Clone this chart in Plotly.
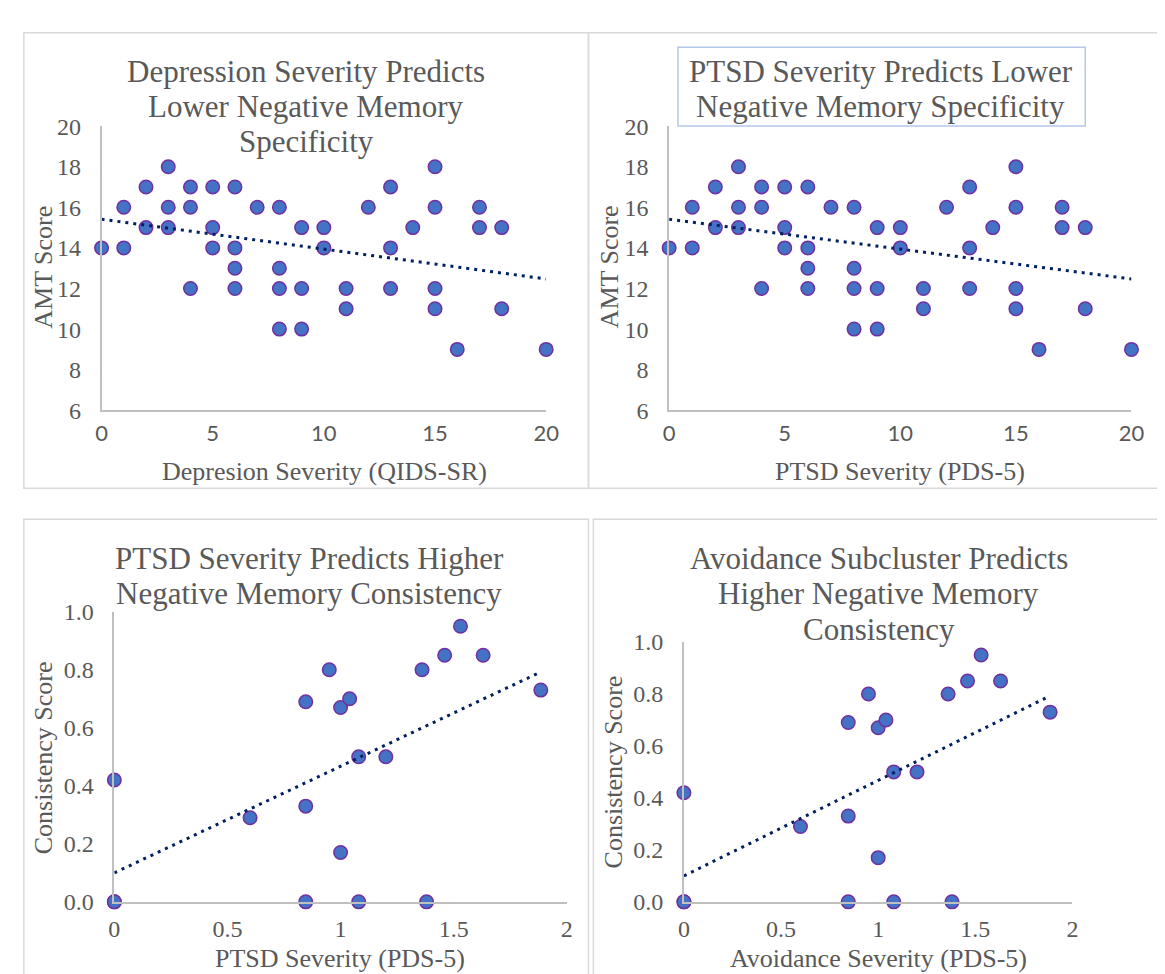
import numpy as np
import plotly.graph_objects as go

W, H = 1165, 974

# ---- data ----
depression_x = [0, 1, 1, 2, 2, 3, 3, 3, 4, 4, 4, 5, 5, 5, 6, 6, 6, 6, 7, 8, 8, 8, 8, 9, 9, 9,
                10, 10, 11, 11, 12, 13, 13, 13, 14, 15, 15, 15, 15, 16, 17, 17, 18, 18, 20]
ptsd_x = list(depression_x)
amt_y = [14, 16, 14, 17, 15, 18, 16, 15, 17, 16, 12, 17, 15, 14, 17, 14, 13, 12, 16, 16, 13, 12, 10,
         15, 12, 10, 15, 14, 12, 11, 16, 17, 14, 12, 15, 18, 16, 12, 11, 9, 16, 15, 15, 11, 9]

ptsd_sev_x = [0, 0, 0, 0.6, 0.846, 0.846, 0.846, 0.95, 1.0, 1.0, 1.04, 1.08, 1.08, 1.2, 1.36,
              1.38, 1.46, 1.53, 1.63, 1.885]
avoid_x = list(ptsd_sev_x)
cons_y = [0, 0, 0.42, 0.29, 0.69, 0.33, 0, 0.8, 0.67, 0.17, 0.7, 0.5, 0, 0.5, 0.8, 0,
          0.85, 0.95, 0.85, 0.73]

top_x_ticks = [0, 5, 10, 15, 20]
bot_x_ticks = [0, 0.5, 1, 1.5, 2]

titles = [
    ["Depression Severity Predicts", "Lower Negative Memory", "Specificity"],
    ["PTSD Severity Predicts Lower", "Negative Memory Specificity"],
    ["PTSD Severity Predicts Higher", "Negative Memory Consistency"],
    ["Avoidance Subcluster Predicts", "Higher Negative Memory", "Consistency"],
]
x_titles = ["Depresion Severity (QIDS-SR)", "PTSD Severity (PDS-5)",
            "PTSD Severity (PDS-5)", "Avoidance Severity (PDS-5)"]
y_titles = ["AMT Score", "AMT Score", "Consistency Score", "Consistency Score"]

# ---- layout geometry (pixels) ----
def fx(px):
    return px / W

def fy(py):
    return 1 - py / H

panels = [
    dict(x=depression_x, y=amt_y, xd=(89, 541), yd=(108, 400), xr=[0, 20], yr=[6, 20],
         tick=top_x_ticks, title_cx=297, title_y=[52, 88, 124], xt=(316, 463), yt=(30, 253)),
    dict(x=ptsd_x, y=amt_y, xd=(666, 1136), yd=(108, 400), xr=[0, 20], yr=[6, 20],
         tick=top_x_ticks, title_cx=881, title_y=[52, 88], xt=(901, 463), yt=(605, 253)),
    dict(x=ptsd_sev_x, y=cons_y, xd=(102, 562), yd=(607, 905), xr=[0, 2], yr=[0, 1],
         tick=bot_x_ticks, title_cx=300, title_y=[552, 588], xt=(331, 963), yt=(30, 757)),
    dict(x=avoid_x, y=cons_y, xd=(681, 1076), yd=(638, 905), xr=[0, 2], yr=[0, 1],
         tick=bot_x_ticks, title_cx=879, title_y=[552, 588, 625], xt=(879, 963), yt=(609, 772)),
]

SERIF = "Liberation Serif, Times New Roman, serif"
SANS = "Lato, Carlito, Calibri, sans-serif"
GREY = "#595959"
AXIS = "#C0C0C0"

fig = go.Figure()
annotations = []
shapes = []

# panel borders
for (x0, y0, x1, y1) in [(10, 12, 584, 480), (584, 12, 1175, 480),
                         (10, 512, 584, 990), (589, 512, 1175, 990)]:
    shapes.append(dict(type="rect", xref="paper", yref="paper",
                       x0=fx(x0), x1=fx(x1), y0=fy(y1), y1=fy(y0),
                       line=dict(color="#D9D9D9", width=1.5), fillcolor="rgba(0,0,0,0)",
                       layer="below"))
# title box of panel 2
shapes.append(dict(type="rect", xref="paper", yref="paper",
                   x0=fx(675), x1=fx(1089), y0=fy(108), y1=fy(27),
                   line=dict(color="#B4C7E7", width=1.5), fillcolor="white", layer="below"))

for i, p in enumerate(panels):
    n = "" if i == 0 else str(i + 1)
    xa, ya = "x" + n, "y" + n
    fig.add_trace(go.Scatter(
        x=p["x"], y=p["y"], mode="markers", xaxis=xa, yaxis=ya, cliponaxis=False,
        marker=dict(size=13.5, color="#4472C4", line=dict(color="#7030A0", width=1.5)),
        hoverinfo="skip"))
    slope, icpt = np.polyfit(np.array(p["x"], float), np.array(p["y"], float), 1)
    xs = np.array([min(p["x"]), max(p["x"])], float)
    fig.add_trace(go.Scatter(
        x=xs, y=slope * xs + icpt, mode="lines", xaxis=xa, yaxis=ya, cliponaxis=False,
        line=dict(color="#002060", width=3, dash="3px,5px"), hoverinfo="skip"))

    top = i < 2
    xaxis = dict(domain=[fx(p["xd"][0]), fx(p["xd"][1])], range=p["xr"], anchor=ya,
                 showline=True, linecolor=AXIS, linewidth=1.5, showgrid=False, zeroline=False,
                 ticks="", tickvals=p["tick"], ticklabelstandoff=3 if top else 5,
                 tickfont=dict(family=SANS if top else SERIF, size=22 if top else 24, color=GREY))
    yaxis = dict(domain=[fy(p["yd"][1]), fy(p["yd"][0])], range=p["yr"], anchor=xa,
                 showline=True, linecolor=AXIS, linewidth=1.5, showgrid=False, zeroline=False,
                 ticks="", dtick=2 if top else 0.2, tickformat="d" if top else ".1f",
                 ticklabelstandoff=14,
                 tickfont=dict(family=SERIF, size=24, color=GREY))
    fig.update_layout(**{"xaxis" + n: xaxis, "yaxis" + n: yaxis})

    for line, ty in zip(titles[i], p["title_y"]):
        annotations.append(dict(text=line, x=fx(p["title_cx"]), y=fy(ty), xref="paper", yref="paper",
                                xanchor="center", yanchor="middle", showarrow=False,
                                font=dict(family=SERIF, size=31, color=GREY)))
    annotations.append(dict(text=x_titles[i], x=fx(p["xt"][0]), y=fy(p["xt"][1]), xref="paper",
                            yref="paper", xanchor="center", yanchor="middle", showarrow=False,
                            font=dict(family=SERIF, size=26, color=GREY)))
    annotations.append(dict(text=y_titles[i], x=fx(p["yt"][0]), y=fy(p["yt"][1]), xref="paper",
                            yref="paper", xanchor="center", yanchor="middle", showarrow=False,
                            textangle=-90, font=dict(family=SERIF, size=26, color=GREY)))

fig.update_layout(width=W, height=H, autosize=False, margin=dict(l=0, r=0, t=0, b=0),
                  paper_bgcolor="white", plot_bgcolor="white", showlegend=False,
                  annotations=annotations, shapes=shapes)

fig.write_html("out.html")
